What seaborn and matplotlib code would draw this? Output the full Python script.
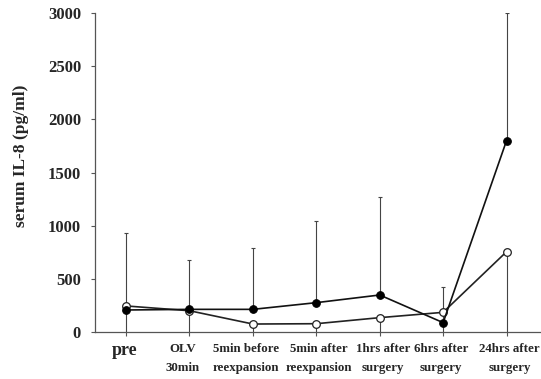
import numpy as np
import pandas as pd
import matplotlib
matplotlib.use("Agg")
import matplotlib.pyplot as plt
import matplotlib.transforms as mtransforms
import seaborn as sns

# values
labels = ["pre", "OLV\n30min", "5min before\nreexpansion", "5min after\nreexpansion",
          "1hrs after\nsurgery", "6hrs after\nsurgery", "24hrs after\nsurgery"]
filled_mean = [207, 213, 213, 276, 348, 88, 1800]
filled_sd = [721, 464, 580, 771, 925, 332, 1200]
open_mean = [245, 200, 75, 78, 135, 185, 755]
open_sd = [400, 300, 200, 200, 300, 250, 900]

sns.set_style("ticks")
plt.rcParams['font.family'] = ['Liberation Serif', 'DejaVu Serif']
plt.rcParams['font.weight'] = 'bold'

pos = np.arange(len(labels))
df = pd.DataFrame({"pos": np.concatenate([pos, pos]),
                   "value": filled_mean + open_mean,
                   "group": ["filled"] * len(pos) + ["open"] * len(pos)})

fig = plt.figure(figsize=(5.41, 3.79), dpi=100)
ax = fig.add_axes([0.1756, 0.124, 0.824, 0.8417])

# error bars: upper SD for filled, lower SD for open
ax.errorbar(pos, filled_mean, yerr=[np.zeros(len(pos)), filled_sd], fmt="none",
            ecolor="#444444", elinewidth=0.8, capsize=1.5, capthick=0.8, zorder=1)
ax.errorbar(pos, open_mean, yerr=[open_sd, np.zeros(len(pos))], fmt="none",
            ecolor="#444444", elinewidth=0.8, capsize=1.5, capthick=0.8, zorder=1)

sns.lineplot(data=df[df.group == "open"], x="pos", y="value", ax=ax, color="#222222",
             linewidth=1.2, marker="o", markersize=5.5, markerfacecolor="white",
             markeredgecolor="#222222", markeredgewidth=0.9, zorder=3)
sns.lineplot(data=df[df.group == "filled"], x="pos", y="value", ax=ax, color="#111111",
             linewidth=1.2, marker="o", markersize=5.5, markerfacecolor="black",
             markeredgecolor="black", zorder=4)

ax.set_xlim(-0.49, 6.54)
ax.set_ylim(0, 3000)
ax.set_yticks([0, 500, 1000, 1500, 2000, 2500, 3000])
ax.set_xticks(pos)
ax.set_xticklabels([])

# category labels as text, with the small horizontal nudges of the original
nudges = [-1, -7, -7, 3, 3, -2, 3]
for p, lab, dx in zip(pos, labels, nudges):
    size = 13 if lab == "pre" else 9.3
    dy = -10 if lab == "pre" else -11
    tr = ax.get_xaxis_transform() + mtransforms.ScaledTranslation(dx / 100, dy / 100,
                                                                   fig.dpi_scale_trans)
    ax.text(p, 0, lab, transform=tr, ha="center", va="top", fontsize=size,
            fontweight="bold", linespacing=1.8, multialignment="center")

for t in ax.get_yticklabels():
    t.set_fontsize(12)
    t.set_fontweight("bold")
ax.tick_params(axis="x", length=3, width=0.8, color="#555555", pad=6)
ax.tick_params(axis="y", length=3, width=0.8, color="#555555", pad=7)
ax.set_xlabel("")
ax.set_ylabel("serum IL-8 (pg/ml)", fontsize=12.5, fontweight="bold")
ax.yaxis.set_label_coords(-0.148, 0.552)
for s in ["left", "bottom"]:
    ax.spines[s].set_color("#555555")
    ax.spines[s].set_linewidth(0.9)
sns.despine(ax=ax)

fig.savefig("out.png", dpi=100)
